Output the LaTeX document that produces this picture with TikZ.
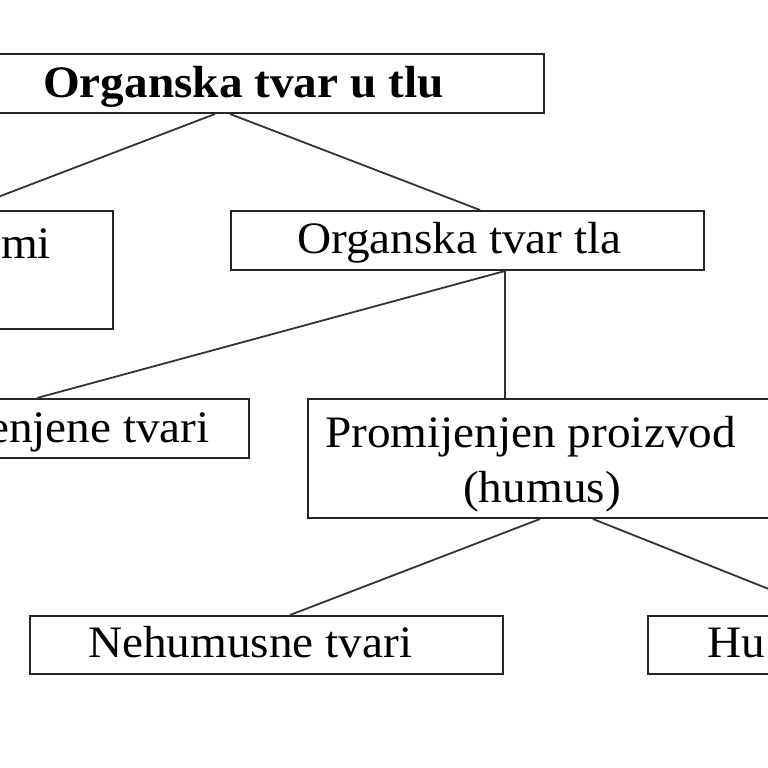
\documentclass[tikz,border=0pt]{standalone}
\usepackage{fontspec}
\setmainfont[FakeStretch=1.05]{Liberation Serif}
\begin{document}
\begin{tikzpicture}[x=1pt,y=-1pt,
  box/.style={draw=black!85,line width=2pt,rectangle,inner sep=0pt,anchor=north west},
  lbl/.style={inner sep=0pt,font=\fontsize{45}{52}\selectfont,text=black},
  conn/.style={draw=black!80,line width=1.8pt}]
\useasboundingbox (0,0) rectangle (768,768);
\fill[white] (0,0) rectangle (768,768);
% boxes
\node[box,minimum width=643pt,minimum height=59pt] (top) at (-100,53) {};
\node[box,minimum width=312pt,minimum height=118pt] (live) at (-200,210) {};
\node[box,minimum width=473pt,minimum height=59pt] (tla) at (230,210) {};
\node[box,minimum width=348pt,minimum height=59pt] (nepr) at (-100,398) {};
\node[box,minimum width=470pt,minimum height=119pt] (prom) at (307,398) {};
\node[box,minimum width=473pt,minimum height=58pt] (nehum) at (29,615) {};
\node[box,minimum width=300pt,minimum height=58pt] (hum) at (647,615) {};
% texts
\node[lbl,anchor=base west,font=\fontsize{45}{52}\selectfont\bfseries] (ttop) at (43,97) {Organska tvar u tlu};
\node[lbl,anchor=base west] (tlive) at (1,258) {mi};
\node[lbl,anchor=base west] (ttla) at (297,253) {Organska tvar tla};
\node[lbl,anchor=base east] (tnepr) at (210,442) {enjene tvari};
\node[lbl,anchor=base west] (tprom1) at (325,447) {Promijenjen proizvod};
\node[lbl,anchor=base] (tprom2) at (542,502) {(humus)};
\node[lbl,anchor=base west] (tnehum) at (88,657) {Nehumusne tvari};
\node[lbl,anchor=base west] (thum) at (707,657) {Hu};
% connectors
\draw[conn] ([xshift=315pt]top.south west) -- ([xshift=164pt]live.north west);
\draw[conn] ([xshift=330pt]top.south west) -- ([xshift=250pt]tla.north west);
\draw[conn] ([xshift=275pt]tla.south west) -- ([xshift=137pt]nepr.north west);
\draw[conn] ([xshift=275pt]tla.south west) -- ([xshift=198pt]prom.north west);
\draw[conn] ([xshift=233pt]prom.south west) -- ([xshift=261pt]nehum.north west);
\draw[conn] ([xshift=286pt]prom.south west) -- ([xshift=187pt]hum.north west);
\end{tikzpicture}
\end{document}
